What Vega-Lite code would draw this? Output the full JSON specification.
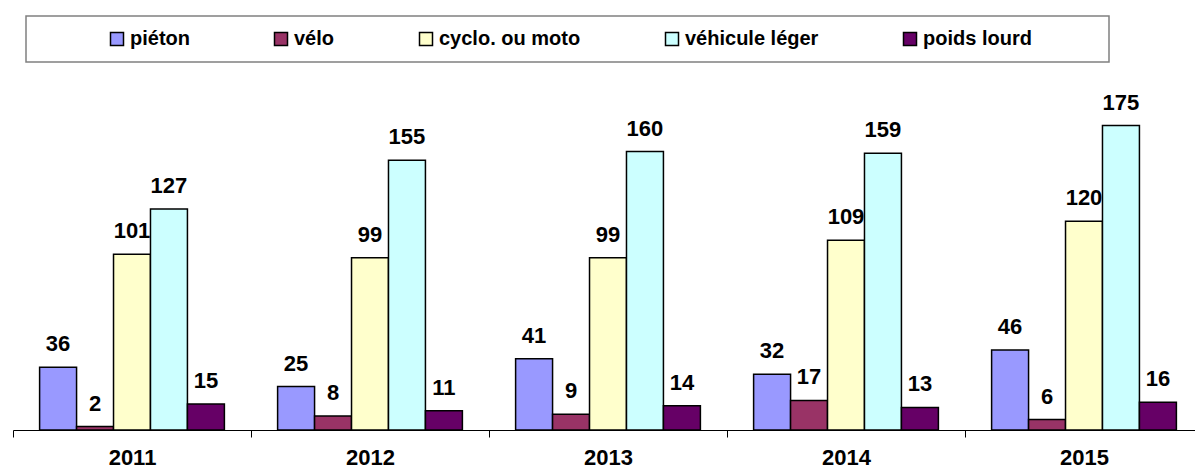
{
  "$schema": "https://vega.github.io/schema/vega-lite/v6.json",
  "width": 1190,
  "height": 348,
  "padding": {"left": 12, "top": 15, "right": 0, "bottom": 0},
  "background": "white",
  "config": {
    "view": {"stroke": null},
    "font": "Liberation Sans"
  },
  "data": {
    "values": [
      {"annee": "2011", "type": "piéton", "valeur": 36},
      {"annee": "2011", "type": "vélo", "valeur": 2},
      {"annee": "2011", "type": "cyclo. ou moto", "valeur": 101},
      {"annee": "2011", "type": "véhicule léger", "valeur": 127},
      {"annee": "2011", "type": "poids lourd", "valeur": 15},
      {"annee": "2012", "type": "piéton", "valeur": 25},
      {"annee": "2012", "type": "vélo", "valeur": 8},
      {"annee": "2012", "type": "cyclo. ou moto", "valeur": 99},
      {"annee": "2012", "type": "véhicule léger", "valeur": 155},
      {"annee": "2012", "type": "poids lourd", "valeur": 11},
      {"annee": "2013", "type": "piéton", "valeur": 41},
      {"annee": "2013", "type": "vélo", "valeur": 9},
      {"annee": "2013", "type": "cyclo. ou moto", "valeur": 99},
      {"annee": "2013", "type": "véhicule léger", "valeur": 160},
      {"annee": "2013", "type": "poids lourd", "valeur": 14},
      {"annee": "2014", "type": "piéton", "valeur": 32},
      {"annee": "2014", "type": "vélo", "valeur": 17},
      {"annee": "2014", "type": "cyclo. ou moto", "valeur": 109},
      {"annee": "2014", "type": "véhicule léger", "valeur": 159},
      {"annee": "2014", "type": "poids lourd", "valeur": 13},
      {"annee": "2015", "type": "piéton", "valeur": 46},
      {"annee": "2015", "type": "vélo", "valeur": 6},
      {"annee": "2015", "type": "cyclo. ou moto", "valeur": 120},
      {"annee": "2015", "type": "véhicule léger", "valeur": 175},
      {"annee": "2015", "type": "poids lourd", "valeur": 16}
    ]
  },
  "encoding": {
    "x": {
      "field": "annee",
      "type": "nominal",
      "scale": {"paddingInner": 0, "paddingOuter": 0},
      "axis": {
        "title": null,
        "labelAngle": 0,
        "labelFont": "Liberation Sans",
        "labelFontSize": 22,
        "labelFontWeight": "bold",
        "labelColor": "black",
        "labelPadding": 10,
        "domainColor": "black",
        "domainWidth": 1,
        "tickColor": "black",
        "tickWidth": 1,
        "tickSize": 7,
        "tickBand": "extent"
      }
    },
    "xOffset": {
      "field": "type",
      "type": "nominal",
      "sort": ["piéton", "vélo", "cyclo. ou moto", "véhicule léger", "poids lourd"],
      "scale": {"paddingInner": 0, "paddingOuter": 0.72}
    },
    "y": {
      "field": "valeur",
      "type": "quantitative",
      "scale": {"domain": [0, 200]},
      "axis": null
    }
  },
  "layer": [
    {
      "mark": {"type": "bar", "stroke": "black", "strokeWidth": 1.5},
      "encoding": {
        "color": {
          "field": "type",
          "type": "nominal",
          "sort": ["piéton", "vélo", "cyclo. ou moto", "véhicule léger", "poids lourd"],
          "scale": {
            "domain": ["piéton", "vélo", "cyclo. ou moto", "véhicule léger", "poids lourd"],
            "range": ["#9999FF", "#993366", "#FFFFCC", "#CCFFFF", "#660066"]
          },
          "legend": {
            "title": " ",
            "titleOrient": "right",
            "titleFontSize": 20,
            "titlePadding": 64,
            "orient": "none",
            "legendX": 13,
            "legendY": -66,
            "direction": "horizontal",
            "columns": 5,
            "padding": 13,
            "symbolOffset": 68,
            "columnPadding": 13,
            "symbolType": "square",
            "symbolSize": 169,
            "symbolStrokeColor": "black",
            "symbolStrokeWidth": 1.5,
            "symbolOpacity": 1,
            "labelFont": "Liberation Sans",
            "labelFontSize": 20,
            "labelFontWeight": "bold",
            "labelColor": "black",
            "labelOffset": 3,
            "strokeColor": "#808080",
            "fillColor": "white",
            "encode": {
              "legend": {"update": {"strokeWidth": {"value": 1.5}}}
            }
          }
        }
      }
    },
    {
      "mark": {
        "type": "text",
        "baseline": "alphabetic",
        "dy": -16,
        "font": "Liberation Sans",
        "fontSize": 22,
        "fontWeight": "bold",
        "color": "black"
      },
      "encoding": {
        "text": {"field": "valeur", "type": "quantitative"}
      }
    }
  ]
}
